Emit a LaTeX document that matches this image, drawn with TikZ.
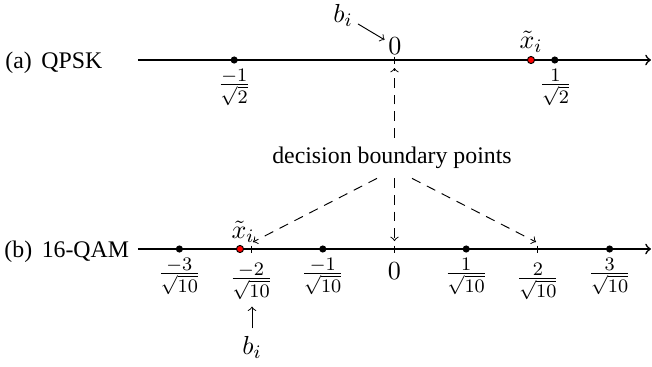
\documentclass[tikz,border=0pt]{standalone}
\usepackage[no-math]{fontspec}
\setmainfont{Liberation Serif}
\usetikzlibrary{calc}
\begin{document}
\begin{tikzpicture}[x=0.42pt,y=-0.42pt,
  axis/.style={line width=0.7pt,->},
  dot/.style={circle,fill=black,inner sep=0pt,minimum size=3pt},
  rdot/.style={circle,fill=red,draw=black,line width=0.4pt,inner sep=0pt,minimum size=3pt},
  lab/.style={inner sep=0pt,font=\fontsize{11}{13}\selectfont},
  tickline/.style={line width=0.5pt},
  dbarrow/.style={line width=0.4pt,->,dash pattern=on 4pt off 3pt},
  biarrow/.style={line width=0.4pt,->}]
\useasboundingbox (0,0) rectangle (652,366);
% ---- (a) QPSK ----
\node[anchor=base west,inner sep=0pt] (qpsk) at (5,68) {(a)\hspace{4pt}QPSK};
\coordinate (as) at (138,60);
\coordinate (ae) at (651,60);
\draw[axis] (as) -- (ae);
\coordinate (ta0) at (394.5,60);
\draw[tickline] ($(ta0)+(0,-3.5)$) -- ($(ta0)+(0,3.5)$);
\node[dot] (dam) at (234.2,60) {};
\node[dot] (dap) at (554.8,60) {};
\node[rdot] (ra) at (531,60) {};
\node[lab] (fam) at (234.2,87.5) {$\frac{-1}{\sqrt{2}}$};
\node[lab] (fap) at (555.5,87.5) {$\frac{1}{\sqrt{2}}$};
\node[lab] (za) at (395,46) {$0$};
\node[lab] (xa) at (531,42) {$\tilde{x}_i$};
\node[lab] (bia) at (343,15) {$b_i$};
\draw[biarrow,shorten <=2.4pt,shorten >=1.7pt] (bia) -- (za);
% ---- (b) 16-QAM ----
\node[anchor=base west,inner sep=0pt] (qam) at (4,257) {(b)\hspace{4pt}16-QAM};
\coordinate (bs) at (138,249);
\coordinate (be) at (651,249);
\draw[axis] (bs) -- (be);
\coordinate (tbm) at (251.1,249);
\coordinate (tb0) at (394.5,249);
\coordinate (tbp) at (537.9,249);
\foreach \t in {tbm,tb0,tbp}
  \draw[tickline] ($(\t)+(0,-3.5)$) -- ($(\t)+(0,3.5)$);
\node[dot] (dm3) at (179.4,249) {};
\node[dot] (dm1) at (322.8,249) {};
\node[dot] (dp1) at (466.2,249) {};
\node[dot] (dp3) at (609.6,249) {};
\node[rdot] (rb) at (240,249) {};
\node[lab] (fm3) at (179.4,276.5) {$\frac{-3}{\sqrt{10}}$};
\node[lab] (fm2) at (251.1,281.5) {$\frac{-2}{\sqrt{10}}$};
\node[lab] (fm1) at (322.8,276.5) {$\frac{-1}{\sqrt{10}}$};
\node[lab] (zb) at (394.5,271) {$0$};
\node[lab] (fp1) at (466.2,276.5) {$\frac{1}{\sqrt{10}}$};
\node[lab] (fp2) at (537.9,281.5) {$\frac{2}{\sqrt{10}}$};
\node[lab] (fp3) at (609.6,276.5) {$\frac{3}{\sqrt{10}}$};
\node[lab] (xb) at (243,232) {$\tilde{x}_i$};
\node[lab] (bib) at (252,347) {$b_i$};
\draw[biarrow,shorten <=3pt,shorten >=2.5pt] (bib.north) -- (bib.north |- fm2.south);
% ---- decision boundary points ----
\node[inner sep=3.8pt] (dbp) at (392,158) {decision boundary points};
\coordinate (up0) at (394.5,68);
\coordinate (dn0) at (394.5,241);
\coordinate (dnm2) at (253,242);
\coordinate (dnp2) at (536,242);
\draw[dbarrow] (dbp.north -| ta0) -- (up0);
\draw[dbarrow] (dbp.south -| tb0) -- (dn0);
\draw[dbarrow] ($(dbp.south -| tb0)+(-17.5,0)$) -- (dnm2);
\draw[dbarrow] ($(dbp.south -| tb0)+(17.5,0)$) -- (dnp2);
\end{tikzpicture}
\end{document}
